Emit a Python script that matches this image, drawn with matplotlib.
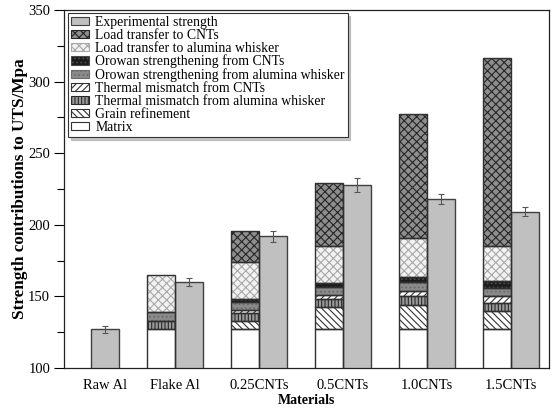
import numpy as np
import matplotlib
matplotlib.use("Agg")
import matplotlib.pyplot as plt
from matplotlib.patches import Patch

plt.rcParams['font.family'] = ['Liberation Serif', 'DejaVu Serif']
plt.rcParams['hatch.linewidth'] = 0.8

categories = ["Raw Al", "Flake Al", "0.25CNTs", "0.5CNTs", "1.0CNTs", "1.5CNTs"]

# stacked contributions (bottom to top)
matrix            = [0, 127, 127, 127, 127, 127]
grain_refinement  = [0, 0, 5.5, 15.4, 17.0, 13.0]
thermal_alumina   = [0, 6, 6, 6, 6.3, 5.5]
thermal_cnts      = [0, 0, 1.8, 2.3, 3.7, 4.7]
orowan_alumina    = [0, 6, 5.8, 6.1, 6.3, 5.8]
orowan_cnts       = [0, 0, 2.2, 2.3, 3.5, 4.5]
lt_alumina        = [0, 26, 25.7, 26.1, 26.7, 25.0]
lt_cnts           = [0, 0, 21.8, 43.8, 86.9, 130.8]

experimental      = [127, 160, 192, 228, 218, 209]
experimental_err  = [2.6, 3.0, 4.0, 4.9, 3.4, 3.2]

series = [
    ("Matrix", matrix, "white", "#333333", ""),
    ("Grain refinement", grain_refinement, "white", "#333333", "\\\\\\\\\\"),
    ("Thermal mismatch from alumina whisker", thermal_alumina, "#9a9a9a", "#2a2a2a", "|||||"),
    ("Thermal mismatch from CNTs", thermal_cnts, "white", "#333333", "/////"),
    ("Orowan strengthening from alumina whisker", orowan_alumina, "#8a8a8a", "#6a6a6a", "...."),
    ("Orowan strengthening from CNTs", orowan_cnts, "#1c1c1c", "#4a4a4a", "...."),
    ("Load transfer to alumina whisker", lt_alumina, "#f2f2f2", "#a8a8a8", "xxxx"),
    ("Load transfer to CNTs", lt_cnts, "#8e8e8e", "#262626", "xxxx"),
]

fig = plt.figure(figsize=(5.54, 4.11), dpi=100)
ax = fig.add_axes([64/554, 1-368/411, (549-64)/554, (368-10)/411])

x = np.arange(len(categories))
w = 28/84

bottom = np.zeros(len(categories))
handles = []
for name, vals, face, hcol, hatch in series:
    vals = np.array(vals, dtype=float)
    m = vals > 0
    ax.bar(x[m] - w/2, vals[m], w, bottom=bottom[m], color=face, edgecolor=hcol,
           hatch=hatch, linewidth=0, zorder=2)
    ax.bar(x[m] - w/2, vals[m], w, bottom=bottom[m], fill=False, edgecolor="#303030",
           linewidth=1.0, zorder=3)
    bottom = bottom + vals
    handles.append(Patch(facecolor=face, edgecolor=hcol, hatch=hatch, linewidth=0.8))

ax.bar(x + w/2, experimental, w, color="#c0c0c0", edgecolor="#404040", linewidth=1.0, zorder=2,
       yerr=experimental_err,
       error_kw=dict(ecolor="#555555", elinewidth=0.8, capsize=2.5, capthick=0.8))
handles.append(Patch(facecolor="#c0c0c0", edgecolor="#404040", linewidth=0.8))
labels = [s[0] for s in series] + ["Experimental strength"]

leg = ax.legend(handles[::-1], labels[::-1], loc="upper left", bbox_to_anchor=(0.008, 0.992),
                fontsize=9.9, frameon=True, fancybox=False,
                shadow={'color': '#a0a0a0', 'alpha': 0.6}, framealpha=1,
                edgecolor="#333333", handlelength=1.35, handleheight=0.55, handletextpad=0.45,
                labelspacing=0.0, borderpad=0.2, borderaxespad=0)
leg.get_frame().set_linewidth(0.8)

ax.set_ylim(100, 350)
ax.set_xlim(-(91-64)/84, 5 + (549-511)/84)
ax.set_yticks(np.arange(100, 351, 50))
ax.set_yticks(np.arange(125, 350, 50), minor=True)
ax.tick_params(axis="y", which="major", length=7, width=0.8, direction="out", labelsize=10.5, pad=3)
ax.tick_params(axis="y", which="minor", length=5, width=0.8, direction="out")

has_stack = np.array(matrix) > 0
tick_pos = np.where(has_stack, x, x + w/2)
ax.set_xticks(tick_pos)
ax.set_xticklabels(categories)
ax.tick_params(axis="x", length=0, labelsize=10.5, pad=8)

for s in ax.spines.values():
    s.set_linewidth(0.9)
    s.set_color("#222222")

ax.set_ylabel("Strength contributions to UTS/Mpa", fontsize=12.3, fontweight="bold", labelpad=0)
ax.set_xlabel("Materials", fontsize=10, fontweight="bold", labelpad=1)

fig.savefig("out.png", dpi=100)
